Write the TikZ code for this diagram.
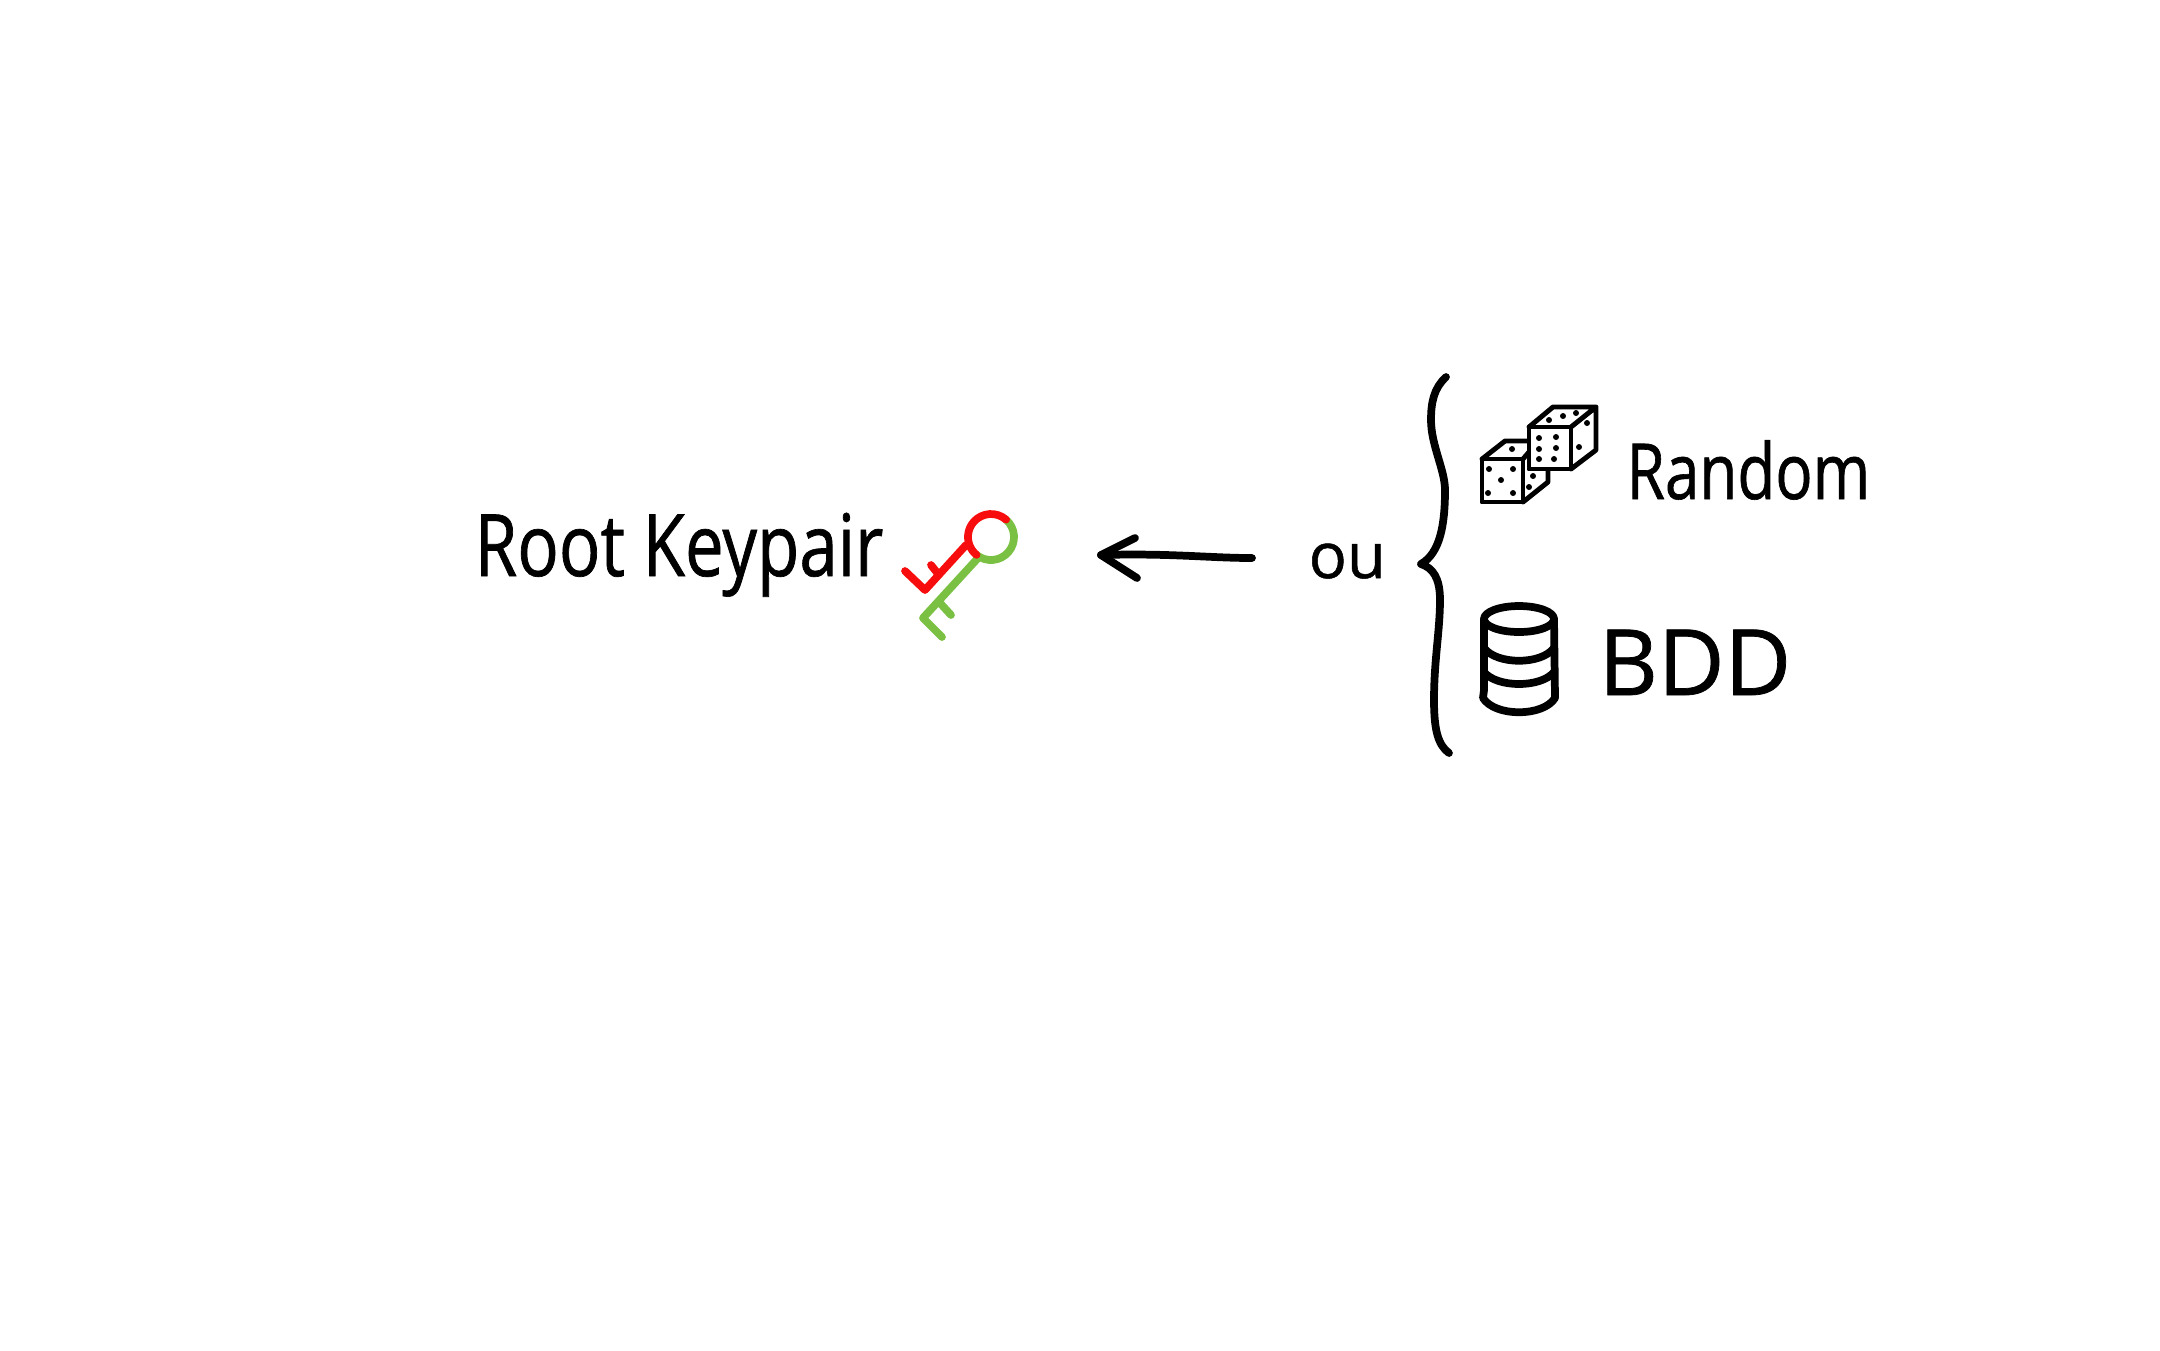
\documentclass[tikz,border=0pt]{standalone}
\usepackage{fontspec}
\setmainfont[FakeBold=0.8]{Open Sans}
\newfontfamily\narrowhand[FakeStretch=0.8, FakeBold=0.8]{Open Sans}
\definecolor{keyred}{HTML}{F70D0D}
\definecolor{keygreen}{HTML}{7AC143}
\begin{document}
\begin{tikzpicture}[x=0.01cm, y=-0.01cm,
    hand/.style={anchor=base west, inner sep=0pt, text=black},
    ink/.style={line width=2.2pt, line cap=round, line join=round, draw=black},
    fine/.style={line width=1.4pt, line cap=round, line join=round, draw=black},
    redkey/.style={line width=2.2pt, line cap=round, line join=round, draw=keyred},
    greenkey/.style={line width=2.2pt, line cap=round, line join=round, draw=keygreen},
]
  \useasboundingbox (0, 0) rectangle (2160, 1350);

  % === Labels ===
  \node[hand, font=\fontsize{24.5}{25}\narrowhand] (root) at (474, 576) {Root Keypair};
  \node[hand, font=\fontsize{18}{18}\selectfont] (ou) at (1308, 578) {ou};
  \node[hand, font=\fontsize{22}{22}\narrowhand] (random) at (1626, 499) {Random};
  \node[hand, font=\fontsize{26}{26}\selectfont] (bdd) at (1598, 695) {BDD};

  % === Key ===
  \coordinate (ring) at (991, 537);
  \draw[greenkey] (ring) ++(-49:23) arc[start angle=-49, end angle=129, radius=23];
  \draw[greenkey] (978, 558) -- (923, 618) -- (942, 637) (940, 603) -- (951, 615);
  \draw[redkey] (ring) ++(-49:23) arc[start angle=-49, end angle=-231, radius=23];
  \draw[redkey] (966, 545) -- (925, 590) -- (905, 571) (939, 575) -- (931, 565);

  % === Arrow ===
  \coordinate (tail) at (1252, 558);
  \coordinate (tip) at (1101, 555);
  \draw[ink] (tail) .. controls (1210, 558) and (1170, 553) .. (tip);
  \draw[ink] (1135, 538) -- (tip) -- (1137, 578);

  % === Brace ===
  \draw[ink] (1446, 377) .. controls (1434, 388) and (1431, 402) .. (1431, 420)
    .. controls (1431, 445) and (1445, 470) .. (1445, 490)
    .. controls (1445, 525) and (1440, 553) .. (1421, 564)
    .. controls (1433, 568) and (1440, 578) .. (1440, 600)
    .. controls (1440, 630) and (1434, 660) .. (1434, 700)
    .. controls (1434, 730) and (1438, 745) .. (1449, 753);

  % === Dice ===
  \draw[fine] (1482, 459) -- (1505, 441) -- (1530, 441) (1523, 502) -- (1548, 482) -- (1548, 470);
  \draw[fine] (1523, 459) -- (1529, 452);
  \draw[fine] (1482, 459) rectangle (1523, 502);
  \draw[fine, fill=white] (1529, 427) rectangle (1571, 469);
  \draw[fine] (1529, 427) -- (1553, 407) -- (1596, 407) -- (1596, 450) -- (1571, 469) (1571, 427) -- (1596, 407);
  \foreach \px/\py in {1489/469, 1513/469, 1501/480, 1488/493, 1513/493, 1512/449, 1533/476, 1529/487,
    1539/438, 1556/437, 1539/449, 1556/448, 1539/459, 1554/459,
    1549/420, 1563/416, 1576/413, 1587/423, 1579/447}
    \fill (\px, \py) circle[radius=3];

  % === Database ===
  \draw[ink] (1519, 619) ellipse[x radius=35, y radius=13];
  \draw[ink] (1484, 619) -- (1484, 690) -- (1483, 698)
    .. controls (1495, 717) and (1543, 717) .. (1555, 698) -- (1554, 619);
  \draw[ink] (1484, 648) .. controls (1497, 665) and (1541, 665) .. (1554, 648);
  \draw[ink] (1484, 672) .. controls (1497, 688) and (1541, 688) .. (1554, 672);
\end{tikzpicture}
\end{document}
